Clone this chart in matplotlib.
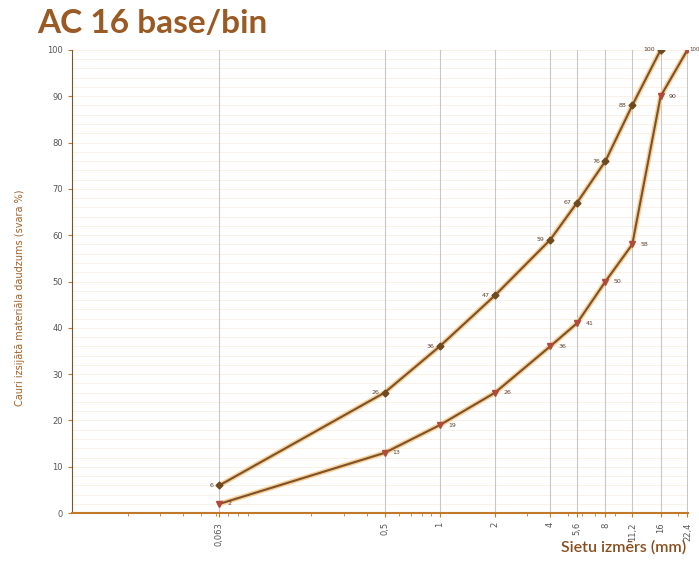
import matplotlib
matplotlib.use("Agg")
import matplotlib.pyplot as plt
from matplotlib.ticker import FixedLocator, FixedFormatter, LogLocator, NullFormatter

sieves = [0.063, 0.5, 1, 2, 4, 5.6, 8, 11.2, 16, 22.4]
sieve_labels = ["0,063", "0,5", "1", "2", "4", "5,6", "8", "11,2", "16", "22,4"]

upper_x = [0.063, 0.5, 1, 2, 4, 5.6, 8, 11.2, 16]
upper_y = [6, 26, 36, 47, 59, 67, 76, 88, 100]
lower_x = [0.063, 0.5, 1, 2, 4, 5.6, 8, 11.2, 16, 22.4]
lower_y = [2, 13, 19, 26, 36, 41, 50, 58, 90, 100]

brown = "#7e5228"
title_c = "#9a5a24"
axis_c = "#c07a2a"
halo = "#f8cf98"

fig = plt.figure(figsize=(6.99, 5.67), dpi=100)
ax = fig.add_axes([0.103, 0.095, 0.881, 0.817])
ax.set_xscale("log")
ax.set_xlim(0.0099, 22.5)
ax.set_ylim(0, 100)

# grid
for yv in range(0, 101, 2):
    ax.axhline(yv, color="#fbefe2", lw=0.6, zorder=0)
for xv in sieves:
    ax.axvline(xv, color="#c8c8c8", lw=0.8, zorder=1)

for xs, ys in [(upper_x, upper_y), (lower_x, lower_y)]:
    ax.plot(xs, ys, color=halo, lw=3.6, solid_capstyle="round", zorder=2)
ax.plot(upper_x, upper_y, color=brown, lw=1.5, marker="D", ms=3.5,
        mfc="#6e4a1e", mec="#6e4a1e", zorder=3)
ax.plot(lower_x, lower_y, color=brown, lw=1.5, marker="v", ms=4.5,
        mfc="#b04a3a", mec="#b04a3a", zorder=3)

for x, y in zip(upper_x, upper_y):
    ax.annotate(str(y), (x, y), xytext=(-4, 0), textcoords="offset points",
                ha="right", va="center", fontsize=4.5, color="#5a4030")
for x, y in zip(lower_x, lower_y):
    off = 6 if x < 20 else 1.0
    fs = 4.5 if x < 20 else 4.0
    ax.annotate(str(y), (x, y), xytext=(off, 0), textcoords="offset points",
                ha="left", va="center", fontsize=fs, color="#5a4030",
                annotation_clip=False)

ax.xaxis.set_major_locator(FixedLocator(sieves))
ax.xaxis.set_major_formatter(FixedFormatter(sieve_labels))
ax.xaxis.set_minor_locator(LogLocator(base=10, subs=range(2, 10)))
ax.xaxis.set_minor_formatter(NullFormatter())
ax.set_yticks(range(0, 101, 10))
ax.tick_params(axis="x", labelrotation=90, labelsize=6, colors="#555555",
               length=3, color=axis_c)
ax.tick_params(axis="x", which="minor", length=2, color=axis_c)
ax.tick_params(axis="y", labelsize=6, colors="#555555", length=3, color=axis_c)

for s in ["top", "right"]:
    ax.spines[s].set_visible(False)
ax.spines["left"].set_color(brown)
ax.spines["bottom"].set_color(axis_c)
ax.spines["bottom"].set_linewidth(1.5)

fig.text(0.028, 0.475, "Cauri izsijātā materiāla daudzums (svara %)",
         rotation=90, ha="center", va="center", fontsize=7, color="#a0622a")
fig.text(0.982, 0.035, "Sietu izmērs (mm)", ha="right", va="center",
         fontsize=11.5, color="#8a4e1e", family="Lato", fontweight="semibold")
fig.text(0.053, 0.958, "AC 16 base/bin", ha="left", va="center",
         fontsize=24, fontweight="bold", color=title_c, family="Lato")

fig.savefig("out.png", dpi=100)
